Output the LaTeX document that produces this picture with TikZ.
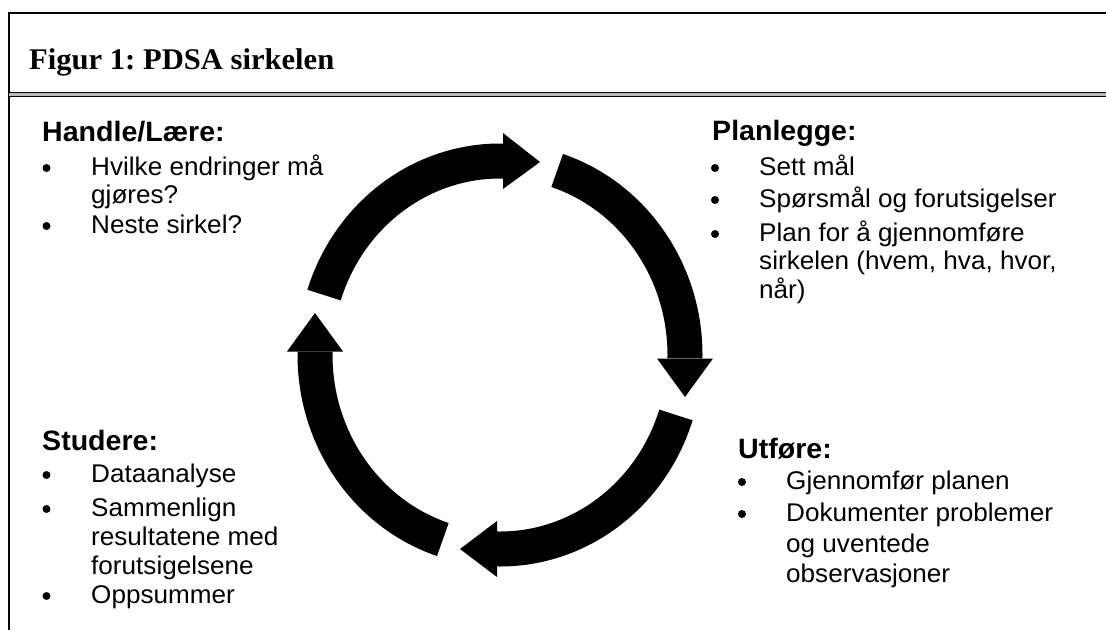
\documentclass[tikz,border=0pt]{standalone}
\usepackage{fontspec}
\newfontfamily\bodyfont{Liberation Sans}[FakeStretch=1.02]
\newfontfamily\titlefont{Liberation Serif}[FakeStretch=1.02]
\frenchspacing
\begin{document}
\begin{tikzpicture}[x=1pt,y=-1pt,
  frame/.style={line width=2pt, black},
  hd/.style={anchor=base west, inner sep=0pt, font=\bodyfont\fontsize{28}{32}\selectfont\bfseries},
  tx/.style={anchor=base west, inner sep=0pt, font=\bodyfont\fontsize{25.6}{30}\selectfont},
  dot/.style={circle, fill=black, inner sep=0pt, minimum size=8pt},
  shaft/.style={line width=35pt, black},
  head/.style={fill=black}]
\useasboundingbox (0,0) rectangle (1106,630);

% frame: top rule, left rule and the double rule under the title
\draw[frame] (8.5,12.5) -- (1106,12.5);
\draw[frame] (8.5,11.5) -- (8.5,630);
\fill[gray!55] (8.5,92.5) rectangle (1106,96.5);
\draw[line width=1.6pt] (8.5,92.5) -- (1106,92.5);
\draw[line width=1.6pt] (8.5,96.5) -- (1106,96.5);

% title
\node[anchor=base west, inner sep=0pt, font=\titlefont\fontsize{30}{34}\selectfont\bfseries]
  (title) at (29,69) {Figur 1: PDSA sirkelen};

% the four curved arrows of the cycle
\begin{scope}[shift={(500,355)}]
  \draw[shaft] (-162:185 and 194) arc[start angle=-162, end angle=-89, x radius=185, y radius=194];
  \fill[head] (3,-222) -- (40,-193) -- (3,-166) -- cycle;
  \draw[shaft] (-72:185 and 194) arc[start angle=-72, end angle=1, x radius=185, y radius=194];
  \fill[head] (157,3.5) -- (185,42) -- (213,3.5) -- cycle;
  \draw[shaft] (18:185 and 194) arc[start angle=18, end angle=91, x radius=185, y radius=194];
  \fill[head] (-3,166) -- (-40,194) -- (-3,222) -- cycle;
  \draw[shaft] (108:185 and 194) arc[start angle=108, end angle=181, x radius=185, y radius=194];
  \fill[head] (-213,-3.5) -- (-185,-42) -- (-157,-3.5) -- cycle;
\end{scope}

% Handle/Lære
\node[hd] (act) at (42,141) {Handle/Lære:};
\node[dot] (actb1) at (46.5,168) {};
\node[tx] (act1) at (91,175) {Hvilke endringer må};
\node[tx] (act1b) at (91,203) {gjøres?};
\node[dot] (actb2) at (46.5,226) {};
\node[tx] (act2) at (91,233) {Neste sirkel?};

% Planlegge
\node[hd] (plan) at (712,140) {Planlegge:};
\node[dot] (planb1) at (715,168) {};
\node[tx] (plan1) at (759,175) {Sett mål};
\node[dot] (planb2) at (715,200) {};
\node[tx] (plan2) at (759,207) {Spørsmål og forutsigelser};
\node[dot] (planb3) at (715,234) {};
\node[tx] (plan3) at (759,241) {Plan for å gjennomføre};
\node[tx] (plan3b) at (759,269) {sirkelen (hvem, hva, hvor,};
\node[tx] (plan3c) at (759,298) {når)};

% Studere
\node[hd] (study) at (42,450) {Studere:};
\node[dot] (studyb1) at (46.5,475) {};
\node[tx] (study1) at (91,482) {Dataanalyse};
\node[dot] (studyb2) at (46.5,509) {};
\node[tx] (study2) at (91,516) {Sammenlign};
\node[tx] (study2b) at (91,545) {resultatene med};
\node[tx] (study2c) at (91,574) {forutsigelsene};
\node[dot] (studyb3) at (46.5,596) {};
\node[tx] (study3) at (91,603) {Oppsummer};

% Utføre
\node[hd] (do) at (738,458) {Utføre:};
\node[dot] (dob1) at (742,482) {};
\node[tx] (do1) at (786,489) {Gjennomfør planen};
\node[dot] (dob2) at (742,514) {};
\node[tx] (do2) at (786,521) {Dokumenter problemer};
\node[tx] (do2b) at (786,552) {og uventede};
\node[tx] (do2c) at (786,582) {observasjoner};
\end{tikzpicture}
\end{document}
